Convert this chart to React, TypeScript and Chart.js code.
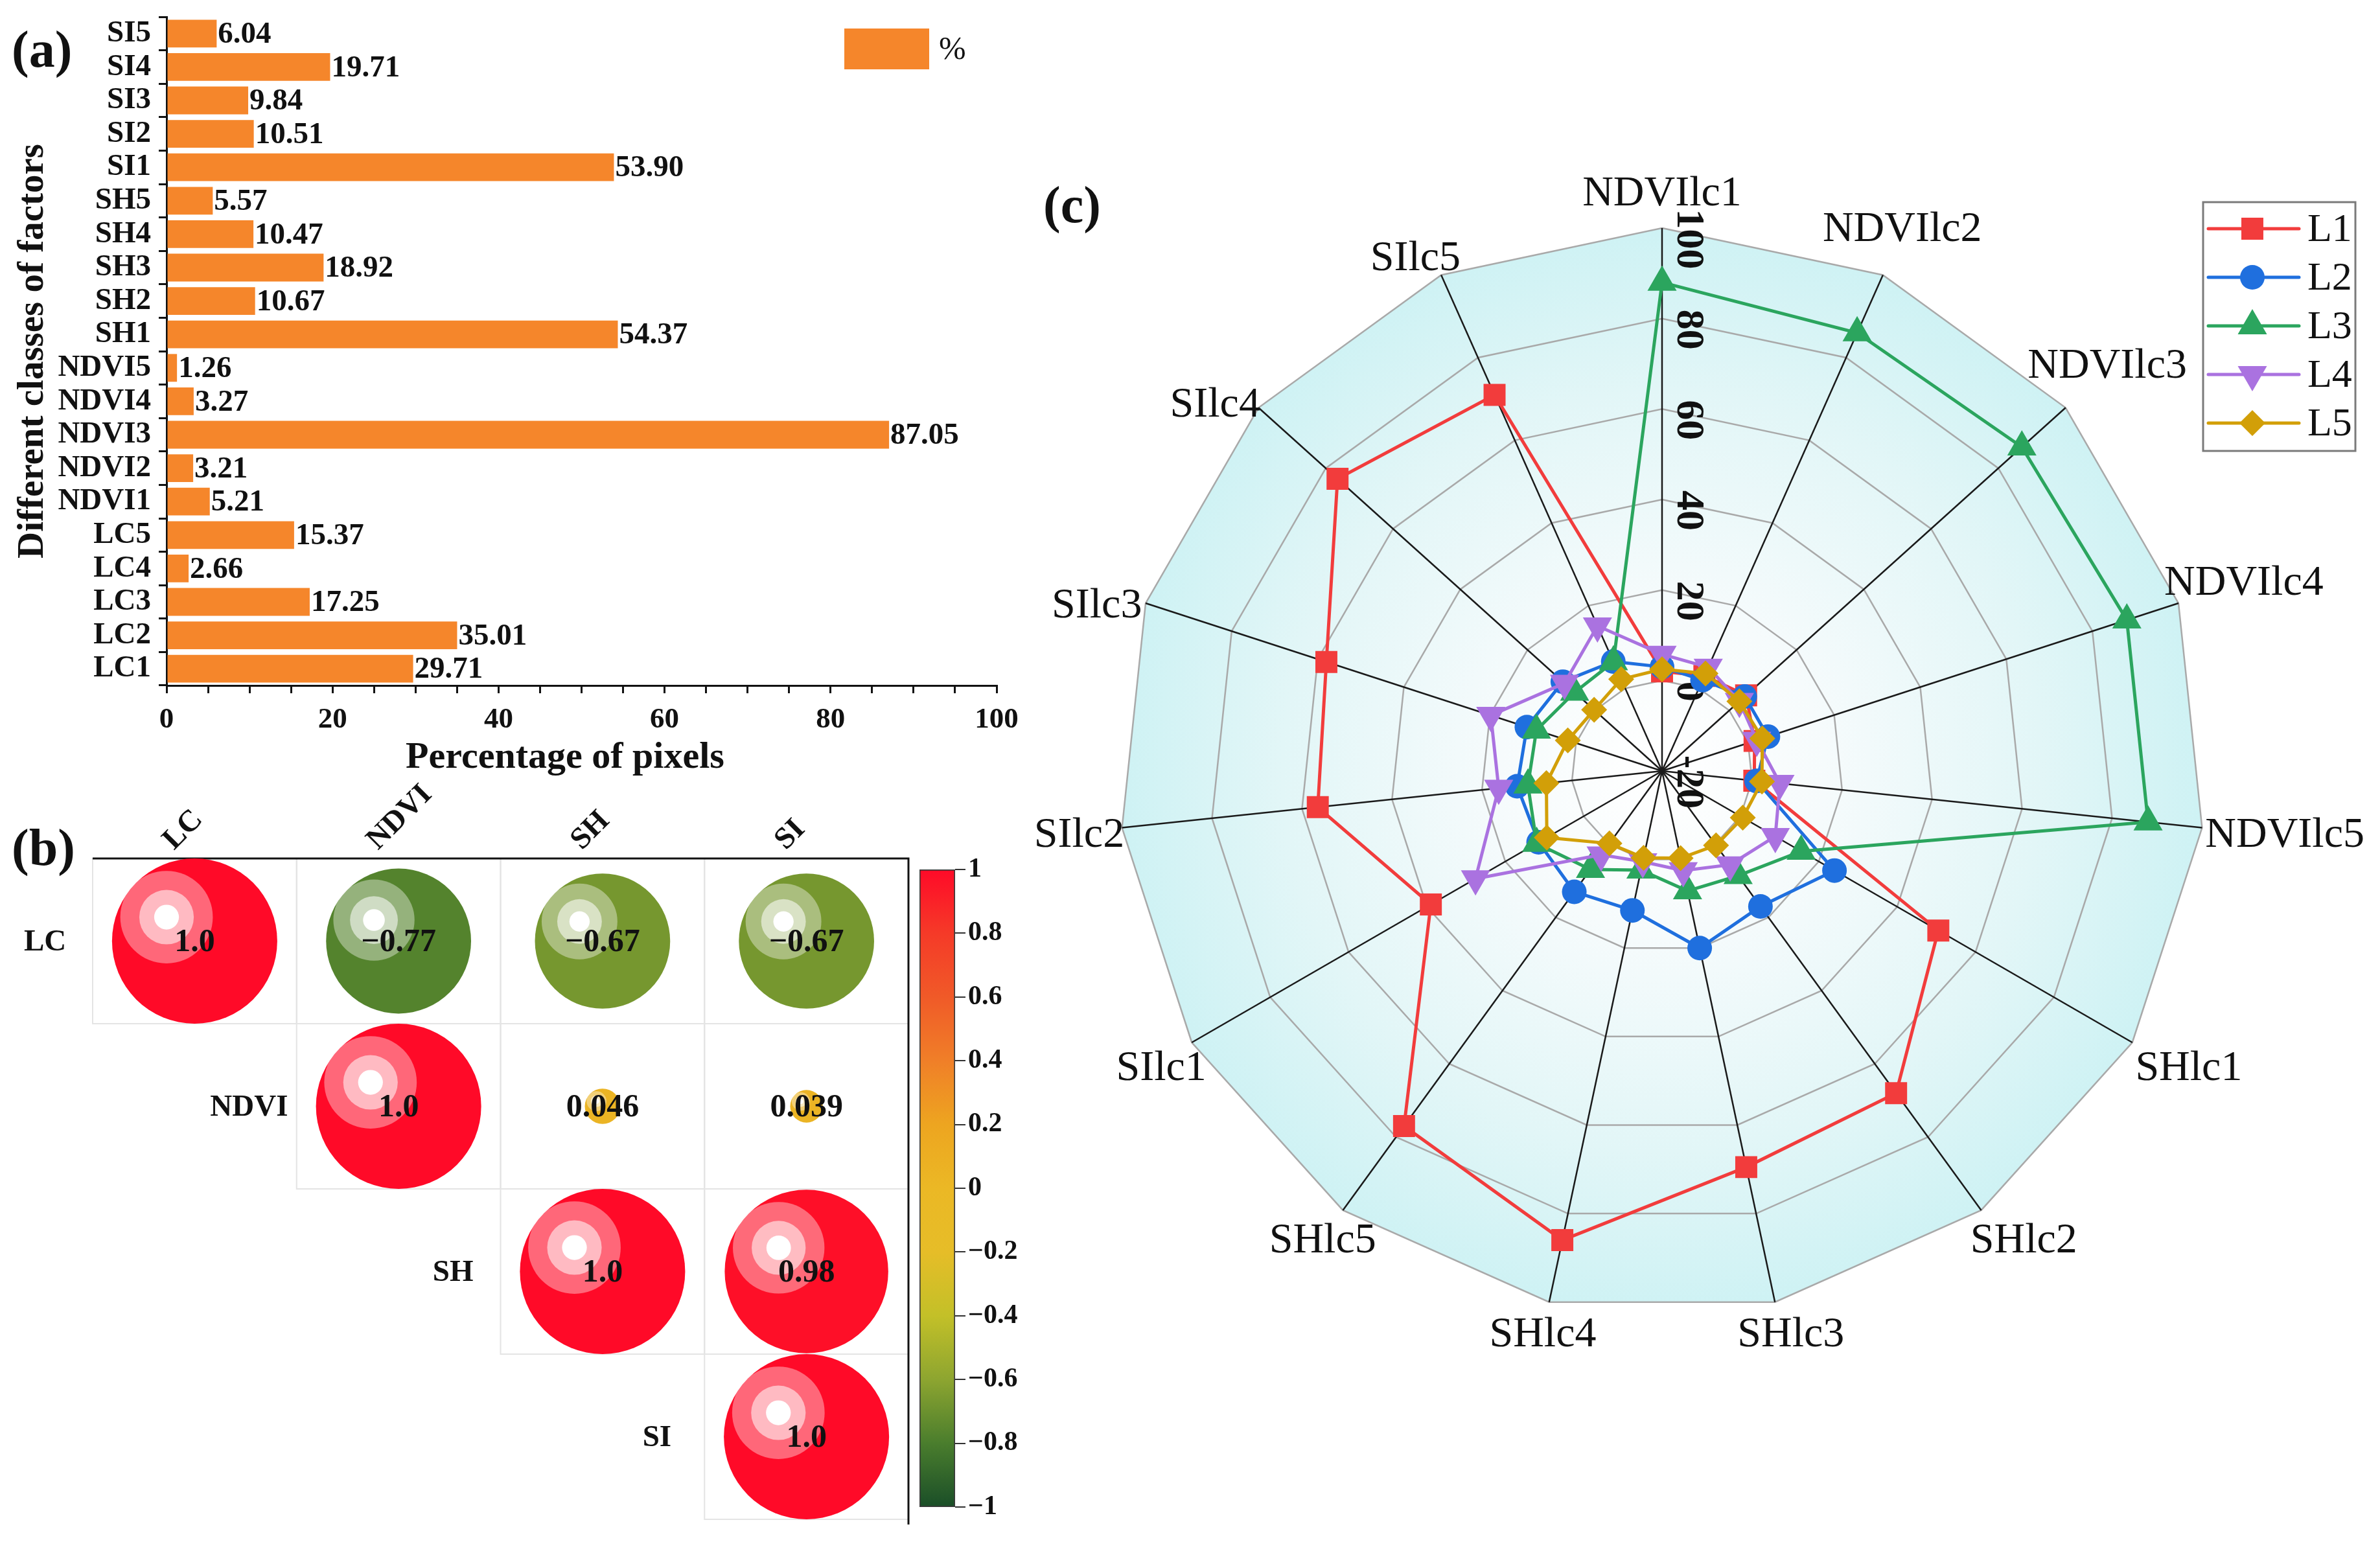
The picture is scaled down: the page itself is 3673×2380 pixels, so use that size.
import React, { useEffect, useRef } from 'react';
import { Chart, registerables } from 'chart.js';

Chart.register(...registerables);

const SERIF = "'Liberation Serif', 'Times New Roman', Times, serif";

// ---------- Panel (a) data ----------
const barCategories = ['LC1', 'LC2', 'LC3', 'LC4', 'LC5', 'NDVI1', 'NDVI2', 'NDVI3', 'NDVI4', 'NDVI5', 'SH1', 'SH2', 'SH3', 'SH4', 'SH5', 'SI1', 'SI2', 'SI3', 'SI4', 'SI5'];
const barValues = [29.71, 35.01, 17.25, 2.66, 15.37, 5.21, 3.21, 87.05, 3.27, 1.26, 54.37, 10.67, 18.92, 10.47, 5.57, 53.9, 10.51, 9.84, 19.71, 6.04];
const barLegendLabel = '%';
const barXTicks = [0, 20, 40, 60, 80, 100];
const barXTitle = 'Percentage of pixels';
const barYTitle = 'Different classes of factors';

// ---------- Panel (b) data ----------
const corrFactors = ['LC', 'NDVI', 'SH', 'SI'];
const corrRowLC = [1.0, -0.77, -0.67, -0.67];
const corrRowNDVI = [null, 1.0, 0.046, 0.039];
const corrRowSH = [null, null, 1.0, 0.98];
const corrRowSI = [null, null, null, 1.0];
const colorbarMin = -1;
const colorbarMax = 1;

// ---------- Panel (c) data ----------
const radarAxes = ['NDVIlc1', 'NDVIlc2', 'NDVIlc3', 'NDVIlc4', 'NDVIlc5', 'SHlc1', 'SHlc2', 'SHlc3', 'SHlc4', 'SHlc5', 'SIlc1', 'SIlc2', 'SIlc3', 'SIlc4', 'SIlc5'];
const radarL1 = [2, 3, 5, 1.5, 0.5, 50.5, 68, 69.5, 86, 77, 39, 56.5, 58, 76.5, 71];
const radarL2 = [3, 2, 4.6, 4.6, 1, 24, 17, 20, 11.5, 13, 11.5, 12.2, 11.4, 9.5, 6.5];
const radarL3 = [88, 86, 87, 88, 88, 15.5, 8.6, 7.1, 2.4, 6.9, 12, 9.8, 9.2, 6, 6.4];
const radarL4 = [5.8, 5.1, 3, 2, 6.2, 8.9, 5.6, 2.5, 0.5, 2.9, 27.6, 16.3, 19.8, 9, 15.1];
const radarL5 = [2.5, 3.6, 3, 3.3, 2.2, 0.6, 0.3, -0.3, -0.4, -0.2, 9.4, 5.7, 1.9, 0.2, 2.2];
const radarSeriesNames = ['L1', 'L2', 'L3', 'L4', 'L5'];
const radarTicks = [-20, 0, 20, 40, 60, 80, 100];

// ---------- styles ----------
const BAR_COLOR = '#F5862B';
const SERIES_STYLE = [
  { color: '#F23C3C', point: 'rect', radius: 24, rotation: 0 },
  { color: '#1F6FDE', point: 'circle', radius: 19, rotation: 0 },
  { color: '#2BA55E', point: 'triangle', radius: 26, rotation: 0 },
  { color: '#AA72E0', point: 'triangle', radius: 26, rotation: 180 },
  { color: '#D29F08', point: 'rectRot', radius: 20, rotation: 0 },
];
const CMAP: [number, number[]][] = [
  [-1, [26, 78, 40]],
  [-0.8, [74, 125, 45]],
  [-0.6, [141, 165, 48]],
  [-0.4, [195, 192, 40]],
  [-0.2, [230, 189, 40]],
  [0, [235, 184, 37]],
  [0.2, [237, 165, 32]],
  [0.4, [240, 127, 40]],
  [0.6, [240, 90, 40]],
  [0.8, [245, 58, 40]],
  [1, [255, 10, 40]],
];

function corrColor(v: number) {
  for (let k = 0; k < CMAP.length - 1; k++) {
    const [a, ca] = CMAP[k];
    const [b, cb] = CMAP[k + 1];
    if (v >= a && v <= b) {
      const t = (v - a) / (b - a);
      const c = ca.map((x, i) => Math.round(x + (cb[i] - x) * t));
      return `rgb(${c[0]},${c[1]},${c[2]})`;
    }
  }
  const c = v < 0 ? CMAP[0][1] : CMAP[CMAP.length - 1][1];
  return `rgb(${c[0]},${c[1]},${c[2]})`;
}

function rgbStr(c: number[]) {
  return `rgb(${c[0]},${c[1]},${c[2]})`;
}

function fmtCorr(v: number) {
  if (v === 1) return '1.0';
  return String(v).replace('-', '\u2212');
}

function drawMarker(ctx: CanvasRenderingContext2D, style: string, x: number, y: number, r: number, rotDeg: number) {
  ctx.beginPath();
  if (style === 'rect') {
    const s = Math.SQRT1_2 * r;
    ctx.rect(x - s, y - s, 2 * s, 2 * s);
  } else if (style === 'circle') {
    ctx.arc(x, y, r, 0, Math.PI * 2);
  } else if (style === 'triangle') {
    let a = (rotDeg * Math.PI) / 180;
    ctx.moveTo(x + Math.sin(a) * r, y - Math.cos(a) * r);
    a += (2 * Math.PI) / 3;
    ctx.lineTo(x + Math.sin(a) * r, y - Math.cos(a) * r);
    a += (2 * Math.PI) / 3;
    ctx.lineTo(x + Math.sin(a) * r, y - Math.cos(a) * r);
    ctx.closePath();
  } else if (style === 'rectRot') {
    ctx.moveTo(x, y - r);
    ctx.lineTo(x + r, y);
    ctx.lineTo(x, y + r);
    ctx.lineTo(x - r, y);
    ctx.closePath();
  }
  ctx.fill();
}

// ---------- layout constants (page px) ----------
const PAGE_W = 3673;
const PAGE_H = 2380;
const BAR_BOX = { left: 0, top: 0, width: 1600, height: 1230 };
const CORR_BOX = { left: 0, top: 1180, width: 1420, height: 1200 };
const CB_BOX = { left: 1405, top: 1320, width: 200, height: 1040 };
const RADAR_BOX = { left: 1560, top: 0, width: 2113, height: 2380 };
const RADAR_CX = 2565;
const RADAR_CY = 1190;
const RADAR_R = 838;

export default function App() {
  const barRef = useRef<HTMLCanvasElement>(null);
  const corrRef = useRef<HTMLCanvasElement>(null);
  const cbRef = useRef<HTMLCanvasElement>(null);
  const radarRef = useRef<HTMLCanvasElement>(null);

  useEffect(() => {
    const charts: Chart[] = [];

    // ===== Panel (a): horizontal bars =====
    const barPlugin = {
      id: 'barDecor',
      afterDatasetsDraw(chart: any) {
        const ctx = chart.ctx;
        const meta = chart.getDatasetMeta(0);
        ctx.save();
        ctx.fillStyle = '#111';
        ctx.font = `bold 47px ${SERIF}`;
        ctx.textAlign = 'left';
        ctx.textBaseline = 'middle';
        meta.data.forEach((bar: any, i: number) => {
          ctx.fillText(barValues[i].toFixed(2), bar.x + 2, bar.y + 2);
        });
        // legend
        ctx.fillStyle = BAR_COLOR;
        ctx.fillRect(1303, 44, 131, 63);
        ctx.fillStyle = '#111';
        ctx.font = `50px ${SERIF}`;
        ctx.fillText(barLegendLabel, 1449, 78);
        // x axis title
        ctx.font = `bold 58px ${SERIF}`;
        ctx.textAlign = 'center';
        ctx.fillText(barXTitle, 872, 1170);
        ctx.restore();
      },
    };
    charts.push(
      new Chart(barRef.current!, {
        type: 'bar',
        data: {
          labels: barCategories,
          datasets: [
            {
              label: barLegendLabel,
              data: barValues,
              backgroundColor: BAR_COLOR,
              barPercentage: 0.83,
              categoryPercentage: 1,
            },
          ],
        },
        options: {
          animation: false,
          responsive: true,
          maintainAspectRatio: false,
          indexAxis: 'y',
          layout: { autoPadding: false, padding: { left: 0, top: 26, right: 62, bottom: 0 } },
          plugins: { legend: { display: false }, tooltip: { enabled: false } },
          scales: {
            x: {
              type: 'linear',
              min: 0,
              max: 100,
              ticks: {
                stepSize: 5,
                autoSkip: false,
                maxRotation: 0,
                color: '#111',
                padding: 14,
                font: { family: SERIF, size: 45, weight: 'bold' },
                callback: (v: any) => (barXTicks.includes(Number(v)) ? String(v) : ''),
              },
              grid: { drawOnChartArea: false, drawTicks: true, tickLength: 12, color: '#111', lineWidth: 3 },
              border: { display: true, color: '#111', width: 3 },
              title: { display: false },
              afterFit: (s: any) => {
                s.height = 172;
                s.paddingLeft = 0;
                s.paddingRight = 0;
              },
            } as any,
            y: {
              type: 'category',
              reverse: true,
              offset: true,
              ticks: {
                autoSkip: false,
                color: '#111',
                padding: 12,
                font: { family: SERIF, size: 47, weight: 'bold' },
              },
              grid: { offset: true, drawOnChartArea: false, tickLength: 12, color: '#111', lineWidth: 3 },
              border: { display: true, color: '#111', width: 3 },
              title: {
                display: true,
                text: barYTitle,
                color: '#111',
                font: { family: SERIF, size: 57, weight: 'bold' },
                padding: { top: 17, bottom: 0 },
              },
              afterFit: (s: any) => {
                s.width = 257;
                s.paddingTop = 0;
                s.paddingBottom = 0;
              },
            } as any,
          },
        },
        plugins: [barPlugin],
      })
    );

    // ===== Panel (b): correlation bubbles =====
    const corrRows = [corrRowLC, corrRowNDVI, corrRowSH, corrRowSI];
    const corrPoints: { x: number; y: number; v: number }[] = [];
    corrRows.forEach((row, i) =>
      row.forEach((v, j) => {
        if (v !== null && v !== undefined) corrPoints.push({ x: j, y: i, v: v as number });
      })
    );
    const cellH = (chart: any) => (chart.chartArea ? chart.chartArea.height / corrFactors.length : 255);
    const corrPlugin = {
      id: 'corrDecor',
      beforeDatasetsDraw(chart: any) {
        const ctx = chart.ctx;
        const { chartArea: ca, scales } = chart;
        const xs = scales.x;
        const ys = scales.y;
        const cw = ca.width / corrFactors.length;
        const ch = ca.height / corrFactors.length;
        ctx.save();
        ctx.strokeStyle = '#e4e4e4';
        ctx.lineWidth = 2;
        corrPoints.forEach((p) => {
          const cx = xs.getPixelForValue(p.x);
          const cy = ys.getPixelForValue(p.y);
          ctx.strokeRect(cx - cw / 2, cy - ch / 2, cw, ch);
        });
        ctx.strokeStyle = '#111';
        ctx.lineWidth = 3;
        ctx.beginPath();
        ctx.moveTo(ca.left, ca.top);
        ctx.lineTo(ca.right, ca.top);
        ctx.lineTo(ca.right, ca.bottom + 8);
        ctx.stroke();
        ctx.fillStyle = '#111';
        ctx.font = `bold 47px ${SERIF}`;
        ctx.textAlign = 'center';
        ctx.textBaseline = 'middle';
        corrFactors.forEach((f, i) => {
          ctx.fillText(f, xs.getPixelForValue(i) - cw * 0.733, ys.getPixelForValue(i) + 2);
        });
        ctx.textAlign = 'left';
        ctx.textBaseline = 'alphabetic';
        corrFactors.forEach((f, j) => {
          ctx.save();
          ctx.translate(xs.getPixelForValue(j) - 32, ca.top - 12);
          ctx.rotate(-Math.PI / 4);
          ctx.fillText(f, 0, 0);
          ctx.restore();
        });
        ctx.restore();
      },
      afterDatasetsDraw(chart: any) {
        const ctx = chart.ctx;
        const meta = chart.getDatasetMeta(0);
        ctx.save();
        meta.data.forEach((el: any) => {
          const R = el.options.radius;
          const hx = el.x - 0.34 * R;
          const hy = el.y - 0.29 * R;
          ctx.fillStyle = 'rgba(255,255,255,0.38)';
          ctx.beginPath();
          ctx.arc(hx, hy, 0.56 * R, 0, Math.PI * 2);
          ctx.fill();
          ctx.fillStyle = 'rgba(255,255,255,0.55)';
          ctx.beginPath();
          ctx.arc(hx, hy, 0.33 * R, 0, Math.PI * 2);
          ctx.fill();
          ctx.fillStyle = '#ffffff';
          ctx.beginPath();
          ctx.arc(hx, hy, 0.15 * R, 0, Math.PI * 2);
          ctx.fill();
        });
        ctx.fillStyle = '#111';
        ctx.font = `bold 50px ${SERIF}`;
        ctx.textAlign = 'center';
        ctx.textBaseline = 'middle';
        meta.data.forEach((el: any, i: number) => {
          ctx.fillText(fmtCorr(corrPoints[i].v), el.x, el.y + 3);
        });
        ctx.restore();
      },
    };
    charts.push(
      new Chart(corrRef.current!, {
        type: 'bubble',
        data: {
          datasets: [
            {
              data: corrPoints as any,
              borderWidth: 0,
              backgroundColor: (c: any) => (c.raw ? corrColor(c.raw.v) : '#f00'),
              radius: (c: any) => (c.raw ? (Math.sqrt(Math.abs(c.raw.v)) * cellH(c.chart)) / 2 : 10),
            } as any,
          ],
        },
        options: {
          animation: false,
          responsive: true,
          maintainAspectRatio: false,
          layout: { autoPadding: false, padding: { left: 143, top: 145, right: 18, bottom: 35 } },
          plugins: { legend: { display: false }, tooltip: { enabled: false } },
          scales: {
            x: { type: 'linear', min: -0.5, max: corrFactors.length - 0.5, display: false },
            y: { type: 'linear', min: -0.5, max: corrFactors.length - 0.5, reverse: true, display: false },
          },
        },
        plugins: [corrPlugin],
      })
    );

    // ===== Colorbar =====
    charts.push(
      new Chart(cbRef.current!, {
        type: 'bar',
        data: {
          labels: [''],
          datasets: [
            {
              data: [[colorbarMin, colorbarMax]] as any,
              borderColor: '#3a3a3a',
              borderWidth: 2,
              borderSkipped: false,
              barPercentage: 1,
              categoryPercentage: 1,
              backgroundColor: (c: any) => {
                const ca = c.chart.chartArea;
                if (!ca) return '#f00';
                const g = c.chart.ctx.createLinearGradient(0, ca.bottom, 0, ca.top);
                CMAP.forEach(([v, col]) => g.addColorStop((v - colorbarMin) / (colorbarMax - colorbarMin), rgbStr(col)));
                return g;
              },
            } as any,
          ],
        },
        options: {
          animation: false,
          responsive: true,
          maintainAspectRatio: false,
          layout: { autoPadding: false, padding: { left: 14, top: 22, right: 0, bottom: 34 } },
          plugins: { legend: { display: false }, tooltip: { enabled: false } },
          scales: {
            x: { display: false },
            y: {
              position: 'right',
              min: colorbarMin,
              max: colorbarMax,
              ticks: {
                stepSize: 0.2,
                autoSkip: false,
                color: '#111',
                padding: 4,
                font: { family: SERIF, size: 42, weight: 'bold' },
                callback: (v: any) => {
                  const n = Math.round(Number(v) * 10) / 10;
                  if (n === 0) return '0';
                  return n < 0 ? '\u2212' + String(Math.abs(n)) : String(n);
                },
              },
              grid: { drawOnChartArea: false, tickLength: 16, color: '#333', lineWidth: 2 },
              border: { display: false },
              afterFit: (s: any) => {
                s.width = 131;
                s.paddingTop = 0;
                s.paddingBottom = 0;
              },
            } as any,
          },
        },
      })
    );

    // ===== Panel (c): radar =====
    const radarSeries = [radarL1, radarL2, radarL3, radarL4, radarL5];
    const radarPlugin = {
      id: 'radarDecor',
      beforeDraw(chart: any) {
        const scale = chart.scales.r;
        const ctx = chart.ctx;
        const n = radarAxes.length;
        ctx.save();
        ctx.beginPath();
        for (let i = 0; i < n; i++) {
          const p = scale.getPointPosition(i, scale.drawingArea);
          if (i === 0) ctx.moveTo(p.x, p.y);
          else ctx.lineTo(p.x, p.y);
        }
        ctx.closePath();
        const g = ctx.createRadialGradient(scale.xCenter, scale.yCenter, 0, scale.xCenter, scale.yCenter, scale.drawingArea);
        g.addColorStop(0, '#ffffff');
        g.addColorStop(0.3, '#f6fbfc');
        g.addColorStop(0.7, '#e2f6f7');
        g.addColorStop(1, '#cef2f4');
        ctx.fillStyle = g;
        ctx.fill();
        ctx.restore();
      },
      beforeDatasetsDraw(chart: any) {
        const scale = chart.scales.r;
        const ctx = chart.ctx;
        ctx.save();
        ctx.fillStyle = '#111';
        ctx.font = `bold 62px ${SERIF}`;
        ctx.textAlign = 'center';
        ctx.textBaseline = 'middle';
        radarTicks.forEach((v) => {
          const d = scale.getDistanceFromCenterForValue(v);
          const p = scale.getPointPosition(0, d);
          ctx.save();
          ctx.translate(p.x + 40, p.y + 17);
          ctx.rotate(Math.PI / 2);
          ctx.fillText(String(v), 0, 0);
          ctx.restore();
        });
        ctx.restore();
      },
      afterDatasetsDraw(chart: any) {
        const scale = chart.scales.r;
        const ctx = chart.ctx;
        const n = radarAxes.length;
        ctx.save();
        // point labels
        ctx.fillStyle = '#111';
        ctx.font = `66px ${SERIF}`;
        ctx.textAlign = 'left';
        ctx.textBaseline = 'alphabetic';
        const capH = 44;
        radarAxes.forEach((lab, i) => {
          const th = (i * 2 * Math.PI) / n;
          const s = Math.sin(th);
          const c = Math.cos(th);
          const v = scale.getPointPosition(i, scale.drawingArea);
          const w = ctx.measureText(lab).width;
          const f = (1 - s) / 2 + 0.22 * Math.abs(s) * c;
          const V = c >= 0 ? -35 * c - 30 * Math.sin(2 * th) : 25 * Math.min(1, 2 * Math.abs(c));
          const g = (1 + c) / 2;
          const top = v.y + V - g * capH;
          ctx.fillText(lab, v.x - f * w, top + capH);
        });
        // legend
        const ox = RADAR_BOX.left;
        const oy = RADAR_BOX.top;
        const bx = 3400 - ox;
        const by = 312 - oy;
        ctx.fillStyle = '#ffffff';
        ctx.fillRect(bx, by, 235, 384);
        ctx.strokeStyle = '#7a7a7a';
        ctx.lineWidth = 3;
        ctx.strokeRect(bx, by, 235, 384);
        radarSeriesNames.forEach((name, k) => {
          const st = SERIES_STYLE[k];
          const yy = 353 - oy + k * 75;
          ctx.strokeStyle = st.color;
          ctx.lineWidth = 5;
          ctx.lineCap = 'round';
          ctx.beginPath();
          ctx.moveTo(bx + 8, yy);
          ctx.lineTo(bx + 148, yy);
          ctx.stroke();
          ctx.fillStyle = st.color;
          drawMarker(ctx, st.point, bx + 76, yy, st.radius, st.rotation);
          ctx.fillStyle = '#111';
          ctx.font = `62px ${SERIF}`;
          ctx.textAlign = 'left';
          ctx.textBaseline = 'middle';
          ctx.fillText(name, bx + 161, yy + 3);
        });
        ctx.restore();
      },
    };
    const padL = RADAR_CX - RADAR_R - RADAR_BOX.left;
    const padR = RADAR_BOX.left + RADAR_BOX.width - (RADAR_CX + RADAR_R);
    const padT = RADAR_CY - RADAR_R - RADAR_BOX.top;
    const padB = RADAR_BOX.top + RADAR_BOX.height - (RADAR_CY + RADAR_R);
    charts.push(
      new Chart(radarRef.current!, {
        type: 'radar',
        data: {
          labels: radarAxes,
          datasets: radarSeries.map((d, k) => ({
            label: radarSeriesNames[k],
            data: d,
            fill: false,
            borderColor: SERIES_STYLE[k].color,
            backgroundColor: 'rgba(0,0,0,0)',
            borderWidth: 5,
            pointStyle: SERIES_STYLE[k].point as any,
            pointRadius: SERIES_STYLE[k].radius,
            pointRotation: SERIES_STYLE[k].rotation,
            pointBackgroundColor: SERIES_STYLE[k].color,
            pointBorderWidth: 0,
            order: radarSeries.length - 1 - k,
          })),
        },
        options: {
          animation: false,
          responsive: true,
          maintainAspectRatio: false,
          layout: { autoPadding: false, padding: { left: padL, right: padR, top: padT, bottom: padB } },
          plugins: { legend: { display: false }, tooltip: { enabled: false } },
          elements: { line: { tension: 0 } },
          scales: {
            r: {
              min: -20,
              max: 100,
              ticks: { display: false, stepSize: 20 },
              grid: { color: '#a9a9a9', lineWidth: 2.5, circular: false },
              angleLines: { color: '#1a1a1a', lineWidth: 2.5 },
              pointLabels: { display: false },
            },
          },
        },
        plugins: [radarPlugin],
      })
    );

    return () => charts.forEach((c) => c.destroy());
  }, []);

  const box = (b: { left: number; top: number; width: number; height: number }): React.CSSProperties => ({
    position: 'absolute',
    left: b.left,
    top: b.top,
    width: b.width,
    height: b.height,
  });
  const panelLabel: React.CSSProperties = {
    position: 'absolute',
    fontFamily: SERIF,
    fontWeight: 'bold',
    fontSize: 80,
    lineHeight: 1,
    color: '#111',
  };

  return (
    <div style={{ position: 'fixed', left: 0, top: 0, width: PAGE_W, height: PAGE_H, background: '#fff', overflow: 'hidden' }}>
      <div style={box(BAR_BOX)}>
        <canvas ref={barRef} />
      </div>
      <div style={box(CORR_BOX)}>
        <canvas ref={corrRef} />
      </div>
      <div style={box(CB_BOX)}>
        <canvas ref={cbRef} />
      </div>
      <div style={box(RADAR_BOX)}>
        <canvas ref={radarRef} />
      </div>
      <div style={{ ...panelLabel, left: 18, top: 36 }}>(a)</div>
      <div style={{ ...panelLabel, left: 18, top: 1268 }}>(b)</div>
      <div style={{ ...panelLabel, left: 1610, top: 276 }}>(c)</div>
    </div>
  );
}
